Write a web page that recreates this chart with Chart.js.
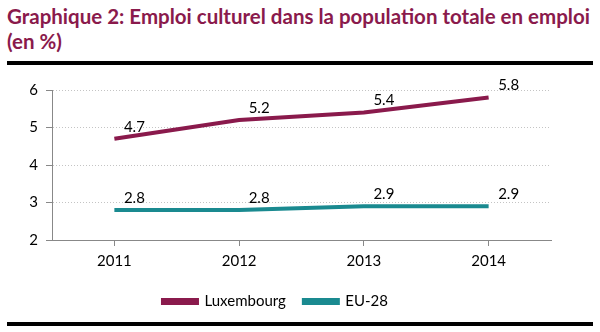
<!DOCTYPE html>
<html>
<head>
<meta charset="utf-8">
<script src="https://cdn.jsdelivr.net/npm/chart.js@4/dist/chart.umd.min.js"></script>
<style>
  html, body { margin: 0; padding: 0; background: #fff; }
  body { width: 600px; height: 332px; position: relative; overflow: hidden; font-family: Lato, 'Noto Sans', sans-serif; }
  .titre { position: absolute; left: 7px; top: 4px; width: 592px; color: #8a1a4c; font-weight: bold; font-size: 20.5px; line-height: 25px; white-space: nowrap; }
  .regle { position: absolute; left: 7px; width: 586px; height: 4px; background: #000; }
  #wrap { position: absolute; left: 0; top: 66px; width: 600px; height: 266px; }
</style>
</head>
<body>
<div class="titre">Graphique 2: Emploi culturel dans la population totale en emploi<br>(en %)</div>
<div class="regle" style="top:61px"></div>
<div id="wrap"><canvas id="c"></canvas></div>
<div class="regle" style="top:322px"></div>
<script>
/* ── données ─────────────────────────────────────────── */
const annees     = ['2011', '2012', '2013', '2014'];
const luxembourg = [4.7, 5.2, 5.4, 5.8];
const eu28       = [2.8, 2.8, 2.9, 2.9];
const yTicks     = [2, 3, 4, 5, 6];

const MAROON = '#8a1a4c';
const TEAL   = '#1a8a90';
const FONT   = "Lato, 'Noto Sans', sans-serif";

/* étiquettes de valeurs, un peu à droite au-dessus du point */
const valeurs = {
  id: 'valeurs',
  afterDatasetsDraw(chart) {
    const ctx = chart.ctx;
    ctx.save();
    ctx.font = '15px ' + FONT;
    ctx.fillStyle = '#000';
    ctx.textAlign = 'center';
    ctx.textBaseline = 'middle';
    chart.data.datasets.forEach((ds, i) => {
      chart.getDatasetMeta(i).data.forEach((pt, j) => {
        ctx.fillText(ds.data[j].toFixed(1), pt.x + 20, pt.y - 12);
      });
    });
    ctx.restore();
  }
};

new Chart(document.getElementById('c'), {
  type: 'line',
  data: {
    labels: annees,
    datasets: [
      { label: 'Luxembourg', data: luxembourg, borderColor: MAROON, backgroundColor: MAROON,
        borderWidth: 4, pointRadius: 0, tension: 0 },
      { label: 'EU-28', data: eu28, borderColor: TEAL, backgroundColor: TEAL,
        borderWidth: 4, pointRadius: 0, tension: 0 },
    ],
  },
  options: {
    responsive: true,
    maintainAspectRatio: false,
    animation: false,
    layout: { padding: { top: 24, right: 49, left: 0, bottom: 13 } },
    plugins: {
      legend: {
        position: 'bottom',
        labels: {
          color: '#000',
          font: { family: FONT, size: 15 },
          boxWidth: 34, boxHeight: 3, padding: 18,
        },
      },
      tooltip: { enabled: false },
    },
    scales: {
      x: {
        offset: true,
        grid: { display: true, drawOnChartArea: false, offset: false, color: '#888', tickLength: 6 },
        border: { color: '#888' },
        ticks: { color: '#000', font: { family: FONT, size: 15 }, padding: 6 },
      },
      y: {
        min: 2, max: 6,
        afterFit(s) { s.width = 52; },
        afterBuildTicks(s) { s.ticks = yTicks.map(v => ({ value: v })); },
        grid: { color: '#c4c4c4', tickLength: 6, tickColor: '#888' },
        border: { color: '#888', dash: [1, 2] },
        ticks: { color: '#000', font: { family: FONT, size: 15 }, padding: 8 },
      },
    },
  },
  plugins: [valeurs],
});
</script>
</body>
</html>
